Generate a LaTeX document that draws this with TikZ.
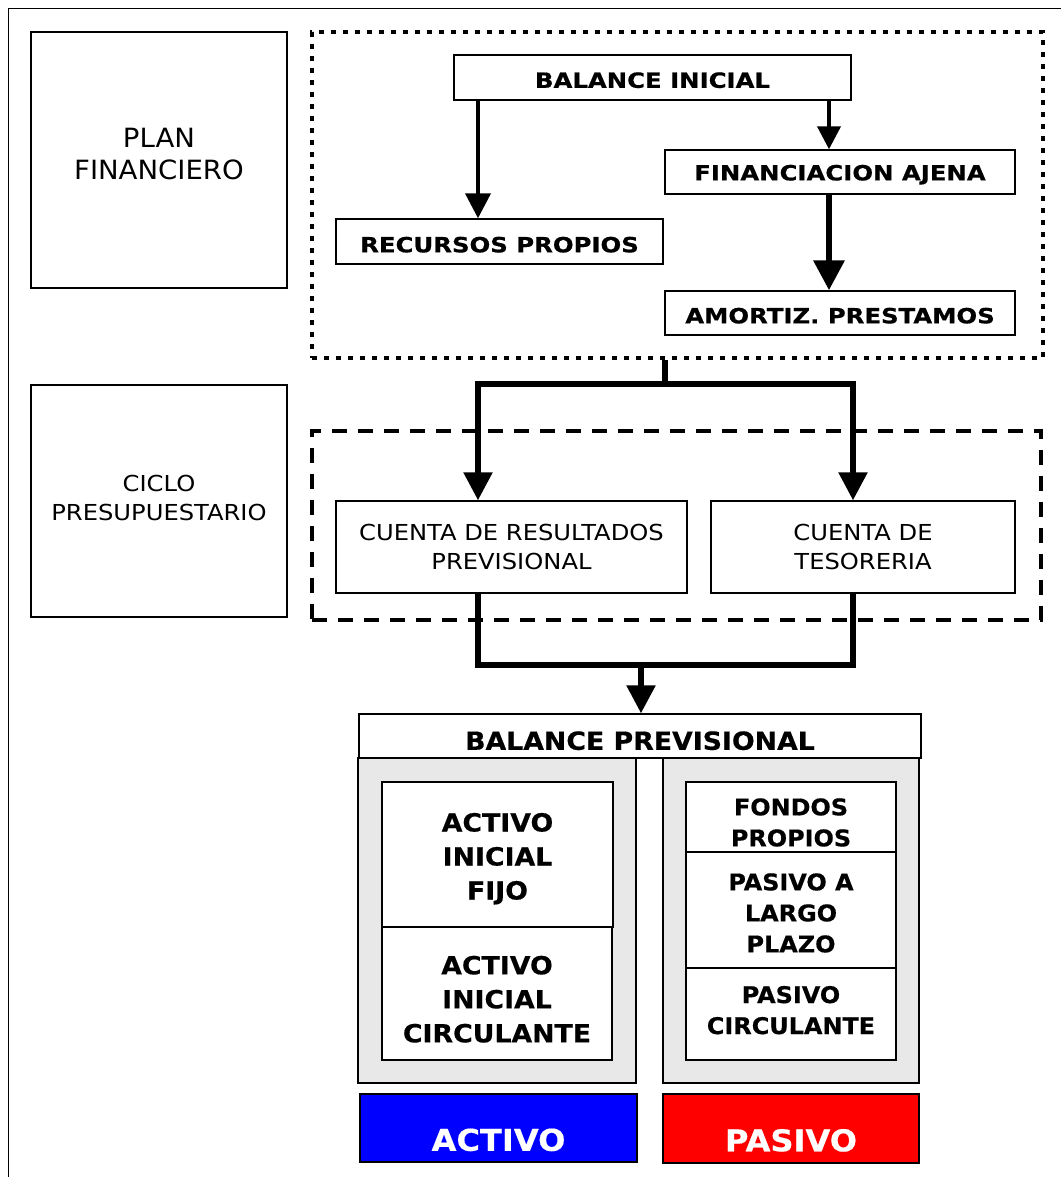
\documentclass[tikz,border=0pt]{standalone}
\usepackage{fontspec}
\setmainfont{DejaVu Sans}
\newfontfamily\fplan[FakeStretch=1.04]{DejaVu Sans}
\newfontfamily\fmid[FakeStretch=1.10]{DejaVu Sans}
\newfontfamily\fbsmall[FakeStretch=1.16,FakeBold=0.6]{DejaVu Sans}
\newfontfamily\fbmid[FakeStretch=1.07,FakeBold=0.5]{DejaVu Sans}
\newfontfamily\fbpas[FakeStretch=1.04,FakeBold=0.5]{DejaVu Sans}
\usetikzlibrary{arrows.meta,calc}
\definecolor{panelgray}{RGB}{232,232,232}
\definecolor{actblue}{RGB}{0,0,255}
\definecolor{pasred}{RGB}{255,0,0}
% invisible struts used to nudge text up or down inside its box
\newcommand\tallstrut[1]{\rule{0pt}{#1}}
\newcommand\deepstrut[1]{\rule[-#1]{0pt}{0pt}}
\begin{document}
\begin{tikzpicture}[x=1pt,y=-1pt,
  box/.style={draw, line width=1.4pt, rectangle, inner sep=0pt, align=center, fill=white},
  panel/.style={draw, line width=1.4pt, rectangle, inner sep=0pt, fill=panelgray},
  plainbig/.style={font=\fplan\fontsize{26.5}{32}\selectfont},
  plainmid/.style={font=\fmid\fontsize{22}{28.5}\selectfont},
  boldsmall/.style={font=\fbsmall\bfseries\fontsize{21}{25}\selectfont},
  boldmid/.style={font=\fbmid\bfseries\fontsize{25}{34}\selectfont},
  boldpas/.style={font=\fbpas\bfseries\fontsize{23}{31}\selectfont},
  boldbig/.style={font=\fbmid\bfseries\fontsize{30}{36}\selectfont, text=white},
  dotframe/.style={draw, line width=4.8pt, dash pattern=on 4.8pt off 7.2pt, rectangle, inner sep=0pt},
  dashframe/.style={draw, line width=4pt, dash pattern=on 15pt off 11pt, rectangle, inner sep=0pt},
  arrthin/.style={line width=4pt, -{Triangle[length=25pt,width=25pt]}},
  arrsmall/.style={line width=4pt, -{Triangle[length=23pt,width=23pt]}},
  arrthick/.style={line width=6.5pt, -{Triangle[length=30pt,width=30pt]}},
  arrflow/.style={line width=5.5pt, line join=miter, -{Triangle[length=28pt,width=28pt]}},
  flow/.style={line width=6pt, line join=miter},
]
\useasboundingbox (0,0) rectangle (1061,1177);
\fill[white] (0,0) rectangle (1061,1177);

% page frame (only its top and left sides fall on the sheet)
\draw[line width=1.5pt] (8.5,1177) -- (8.5,8.5) -- (1061,8.5);

% left-hand labels
\node[box, plainbig, minimum width=256, minimum height=256] (plan) at (159,160) {PLAN\\FINANCIERO\deepstrut{12pt}};
\node[box, plainmid, minimum width=256, minimum height=232] (ciclo) at (159,501) {CICLO\\PRESUPUESTARIO\deepstrut{6pt}};

% financial plan group
\node[dotframe, minimum width=731, minimum height=326] (pfgroup) at (677.5,195) {};
\node[box, boldsmall, minimum width=397, minimum height=45] (bi) at (652.5,77.5) {\tallstrut{21pt}BALANCE INICIAL};
\node[box, boldsmall, minimum width=327, minimum height=45] (rp) at (499.5,241.5) {\tallstrut{22pt}RECURSOS PROPIOS};
\node[box, boldsmall, minimum width=350, minimum height=44] (fa) at (840,172) {\tallstrut{21pt}FINANCIACION AJENA};
\node[box, boldsmall, minimum width=350, minimum height=44] (ap) at (840,313) {\tallstrut{21pt}AMORTIZ. PRESTAMOS};

\coordinate (xl) at (478,0);
\coordinate (xr) at (829,0);
\draw[arrthin] (bi.south -| xl) -- (rp.north -| xl);
\draw[arrsmall] (bi.south -| xr) -- (fa.north -| xr);
\draw[arrthick] (fa.south -| xr) -- (ap.north -| xr);

% budget cycle group
\node[dashframe, minimum width=729, minimum height=189] (cpgroup) at (676.5,525.5) {};
\node[box, plainmid, minimum width=351, minimum height=92] (crp) at (511.5,547) {CUENTA DE RESULTADOS\\PREVISIONAL};
\node[box, plainmid, minimum width=304, minimum height=92] (ct) at (863,547) {CUENTA DE\\TESORERIA};

\coordinate (split) at (665,384);
\coordinate (cl) at (478,0);
\coordinate (cr) at (853,0);
\draw[flow] (pfgroup.south -| split) -- (split);
\draw[arrflow] (split) -| (crp.north -| cl);
\draw[arrflow] (split) -| (ct.north -| cr);

\coordinate (merge) at (641,665);
\draw[flow] (crp.south -| cl) |- (merge) -| (ct.south -| cr);

% forecast balance sheet
\node[box, boldmid, minimum width=562, minimum height=44] (bp) at (640,736) {\tallstrut{28pt}BALANCE PREVISIONAL};
\draw[arrflow] (merge) -- (bp.north -| merge);

\node[panel, minimum width=278, minimum height=325] (actpanel) at (497,920.5) {};
\node[panel, minimum width=256, minimum height=325] (paspanel) at (791,920.5) {};

\node[box, boldmid, minimum width=231, minimum height=145] (aif) at (497.5,854.5) {\tallstrut{27pt}ACTIVO\\INICIAL\\FIJO};
\node[box, boldmid, minimum width=230, minimum height=133] (aic) at (497,993.5) {\tallstrut{30pt}ACTIVO\\INICIAL\\CIRCULANTE};

\node[box, boldpas, minimum width=210, minimum height=70] (fp) at (791,817) {\tallstrut{28pt}FONDOS\\PROPIOS};
\node[box, boldpas, minimum width=210, minimum height=116] (plp) at (791,910) {\tallstrut{23pt}PASIVO A\\LARGO\\PLAZO};
\node[box, boldpas, minimum width=210, minimum height=92] (pc) at (791,1014) {PASIVO\\CIRCULANTE\deepstrut{8pt}};

\node[box, boldbig, fill=actblue, minimum width=277, minimum height=68] (activo) at (498.5,1128) {\tallstrut{46pt}ACTIVO};
\node[box, boldbig, fill=pasred, minimum width=256, minimum height=69] (pasivo) at (791,1128.5) {\tallstrut{46pt}PASIVO};
\end{tikzpicture}
\end{document}
